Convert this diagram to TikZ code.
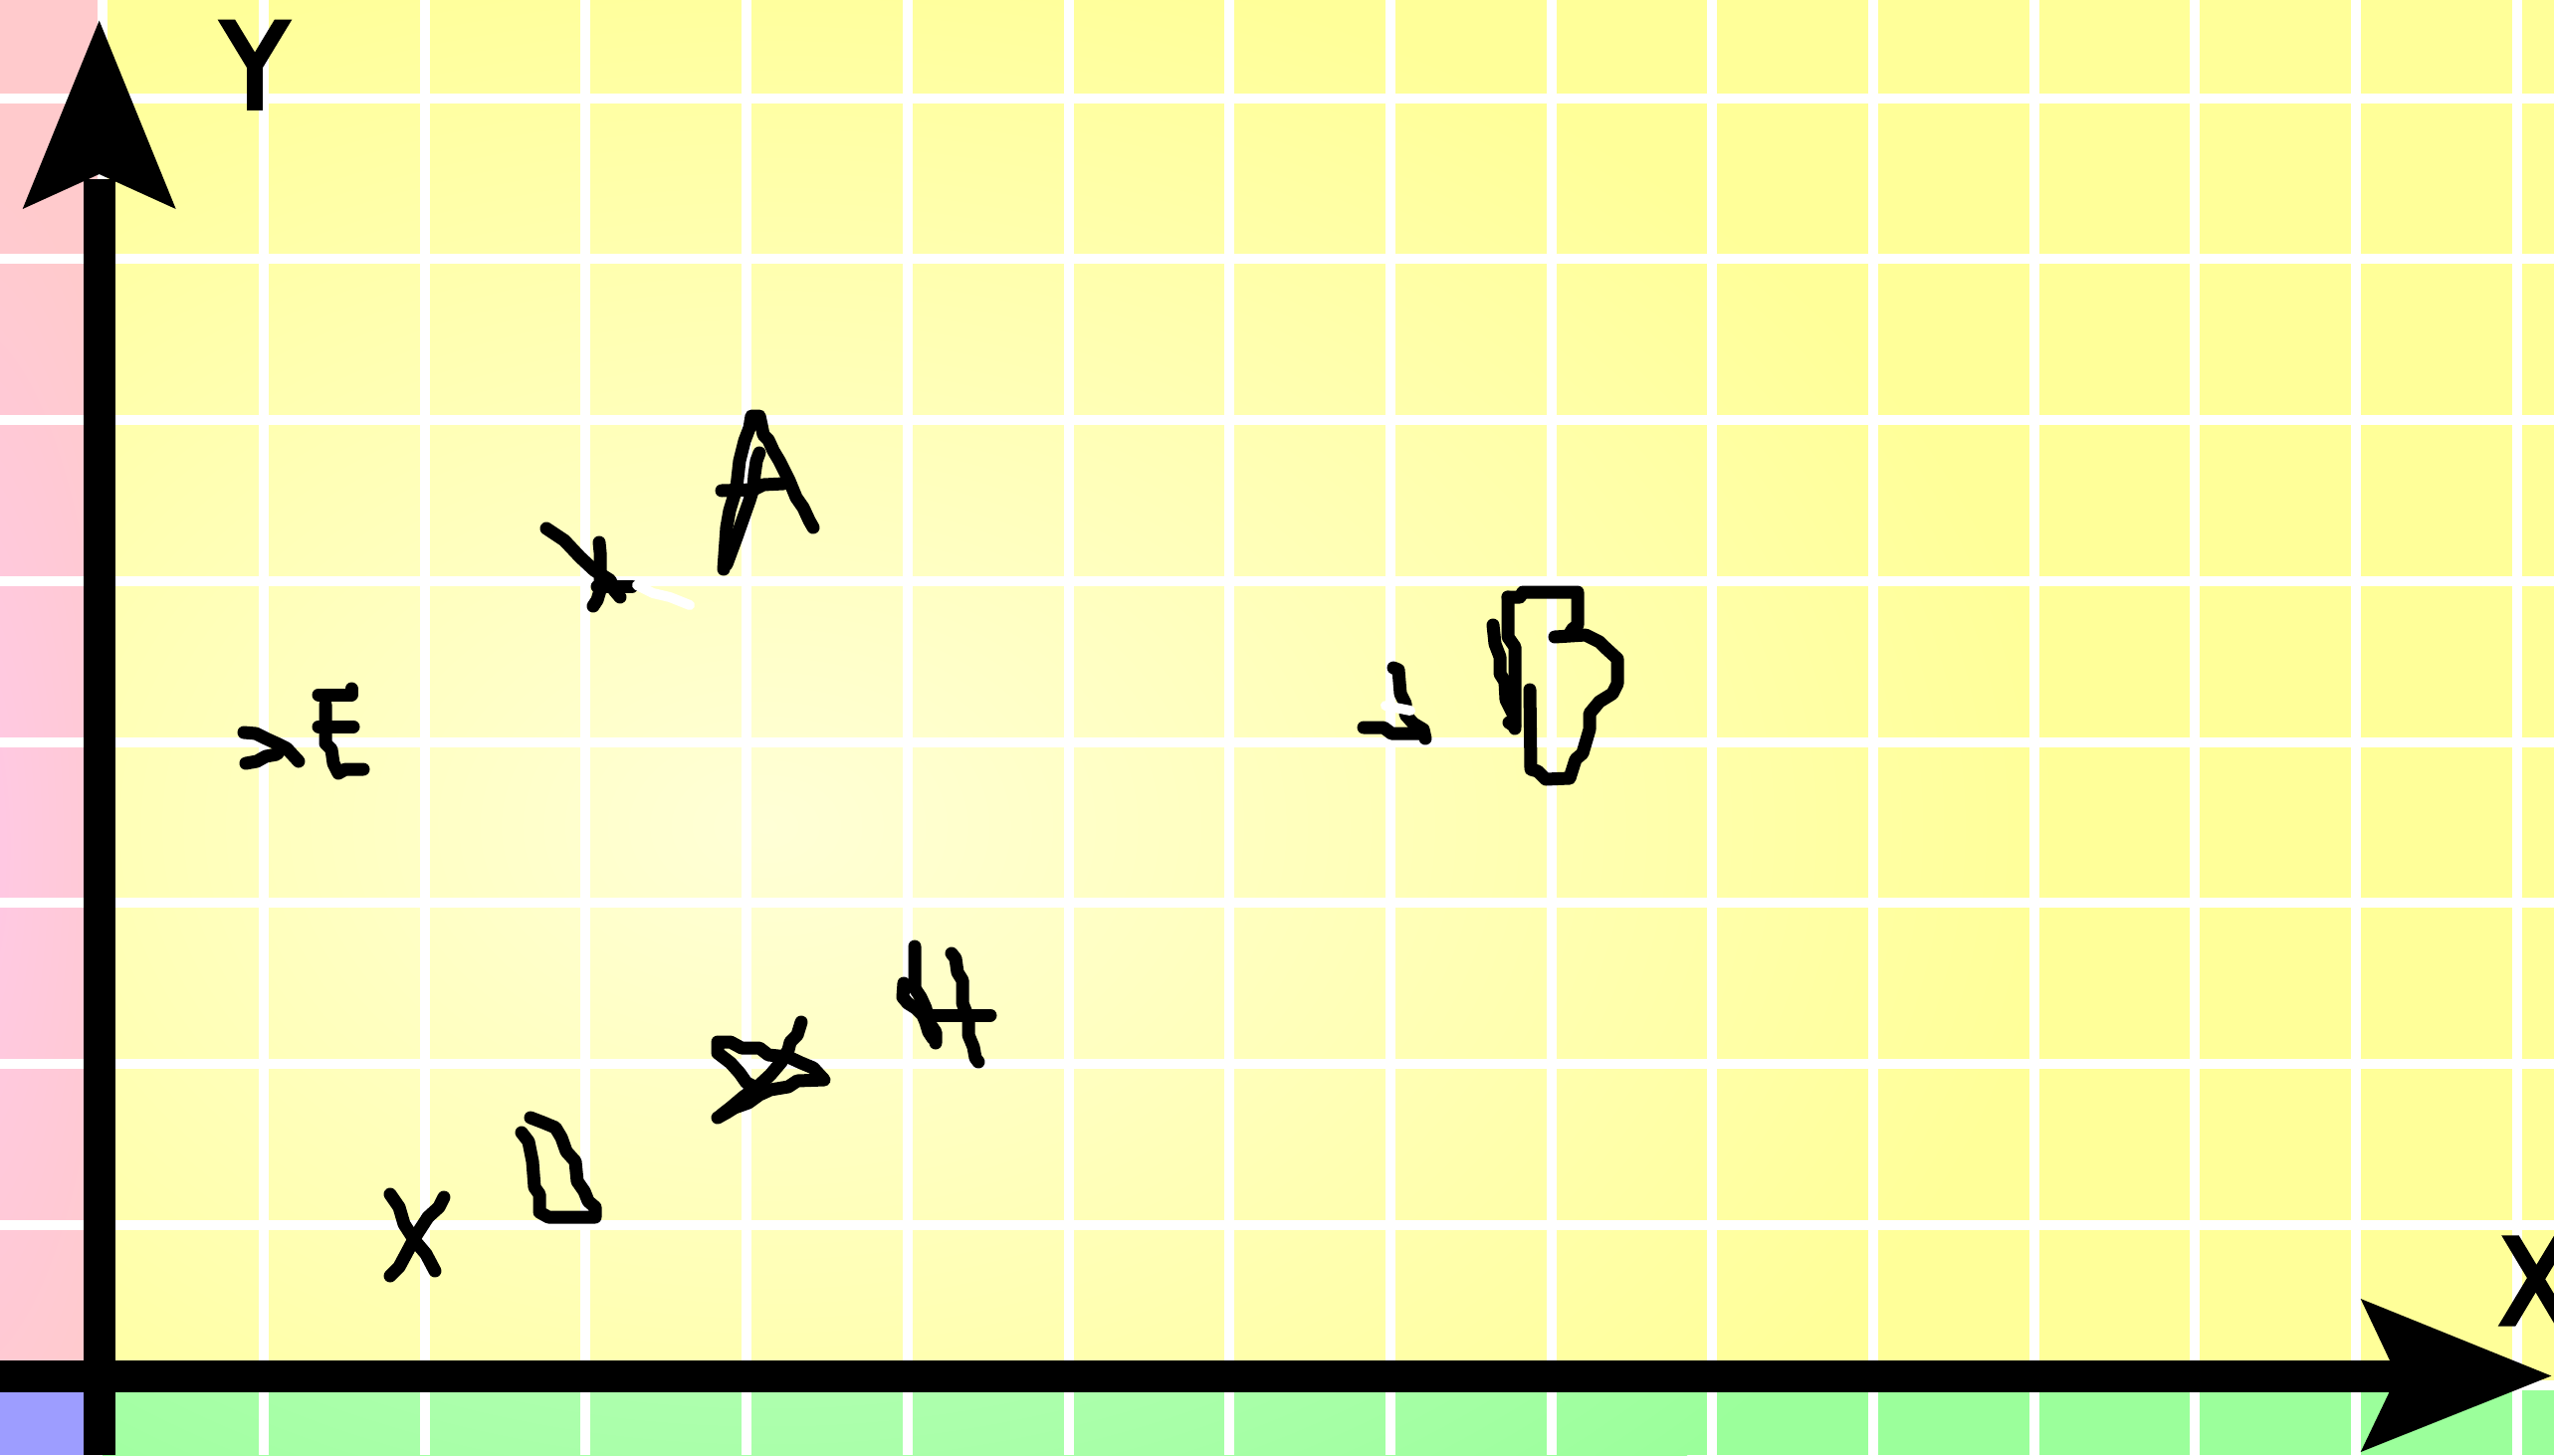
\documentclass[tikz,border=0pt]{standalone}
\usepackage{fontspec}
\setmainfont{DejaVu Sans}
\newfontfamily\axisfont[FakeBold=4.5,FakeStretch=0.9]{DejaVu Sans}
\definecolor{yelE}{RGB}{255,255,153}
\definecolor{yelC}{RGB}{255,255,214}
\definecolor{pinkA}{RGB}{255,200,232}
\definecolor{pinkB}{RGB}{255,202,204}
\definecolor{blueQ}{RGB}{157,157,255}
\definecolor{greenE}{RGB}{155,255,155}
\definecolor{greenC}{RGB}{205,255,205}
\tikzset{
  gridline/.style={draw=white, line width=10pt},
  axisline/.style={draw=black, line width=32pt},
  headfill/.style={fill=black},
  ink/.style={draw=black, line width=13pt, line cap=round, line join=round},
  eraser/.style={draw=white, line width=10pt, line cap=round, line join=round},
  axislabel/.style={inner sep=0pt, text=black, font=\axisfont\fontsize{118}{120}\selectfont},
}
\begin{document}
\begin{tikzpicture}[x=1pt,y=-1pt]
\useasboundingbox (0,0) rectangle (2566,1462);
% quadrants
\fill[yelE] (103,0) rectangle (2566,1392);
\begin{scope}
  \clip (103,0) rectangle (2566,1392);
  \shade[inner color=yelC, outer color=yelE] (770,830) ellipse (1300pt and 900pt);
\end{scope}
\fill[greenE] (103,1392) rectangle (2566,1462);
\begin{scope}
  \clip (103,1392) rectangle (2566,1462);
  \shade[inner color=greenC, outer color=greenE] (770,830) ellipse (1300pt and 900pt);
\end{scope}
\fill[pinkB] (0,0) rectangle (103,1392);
\begin{scope}
  \clip (0,0) rectangle (103,1392);
  \shade[inner color=pinkA, outer color=pinkB] (-40,850) ellipse (200pt and 700pt);
\end{scope}
\fill[blueQ] (0,1392) rectangle (103,1462);
% grid
\foreach \k in {0,...,15} \draw[gridline] ({103.3+\k*161.7},0) -- ({103.3+\k*161.7},1462);
\foreach \k in {0,...,8} \draw[gridline] (0,{98.7+\k*161.7}) -- (2566,{98.7+\k*161.7});
% axes
\coordinate (yfoot) at (99.7,1462);
\coordinate (yneck) at (99.7,180);
\coordinate (xfoot) at (0,1382.5);
\coordinate (xneck) at (2420,1382.5);
\draw[axisline] (yfoot) -- (yneck);
\fill[headfill] (99.7,20.7) -- (176.7,210) -- (99.7,175) -- (22.7,210) -- cycle;
\draw[axisline] (xfoot) -- (xneck);
\fill[headfill] (2563.3,1382.5) -- (2371.7,1459) -- (2408.3,1382.5) -- (2371.7,1305) -- cycle;
\node[axislabel, anchor=base] (ylabel) at (256,108.3) {Y};
\node[axislabel, anchor=base west] (xlabel) at (2511,1330) {X};
% scribble: K-like mark
\draw[ink] (549,531) -- (567,543) -- (583,560) -- (597,573) -- (613,583) -- (617,593) -- (623,600);
\draw[ink] (602,545) -- (603,555) -- (603,593) -- (600,603) -- (596,609);
\draw[ink] (600,589) -- (635,589);
\draw[eraser] (640,588) -- (656,596) -- (673,600) -- (693,608);
% scribble: A
\draw[ink] (727,572) -- (730,530) -- (733,513) -- (740,490) -- (743,463) -- (748,443) -- (753,430) -- (755,418) -- (763,418) -- (765,427) -- (767,437) -- (772,442) -- (777,453) -- (783,463) -- (790,477) -- (793,483) -- (800,500) -- (807,510) -- (813,523) -- (817,530);
\draw[ink] (730,567) -- (740,540) -- (747,520) -- (753,503) -- (757,490) -- (758,477) -- (760,463) -- (763,455);
\draw[ink] (725,493) -- (757,492) -- (767,487) -- (787,486);
% scribble: >E
\draw[ink] (245,736) -- (257,737) -- (267,742) -- (278,747) -- (288,752) -- (300,765);
\draw[ink] (247,767) -- (258,765) -- (267,760) -- (278,758) -- (283,752);
\draw[ink] (320,698) -- (353,698) -- (353,692);
\draw[ink] (320,730) -- (355,730);
\draw[ink] (327,708) -- (327,747) -- (333,753) -- (335,767) -- (340,777) -- (347,773) -- (365,773);
% scribble: 1 and B
\draw[ink] (1400,671) -- (1405,673) -- (1407,697) -- (1412,707) -- (1412,718) -- (1420,727) -- (1430,733) -- (1432,742);
\draw[ink] (1370,731) -- (1390,731) -- (1398,737) -- (1430,737);
\draw[eraser] (1392,709) -- (1417,714);
\draw[ink] (1500,628) -- (1502,647) -- (1507,660) -- (1507,677) -- (1512,685) -- (1513,703) -- (1520,717) -- (1522,732);
\draw[ink] (1515,600) -- (1515,640) -- (1522,650) -- (1522,730) -- (1516,726);
\draw[ink] (1515,600) -- (1527,600) -- (1530,595) -- (1585,595) -- (1585,628) -- (1580,632) -- (1577,637);
\draw[ink] (1562,640) -- (1593,638) -- (1607,645) -- (1612,650) -- (1625,662) -- (1625,687) -- (1620,697) -- (1607,705) -- (1597,717) -- (1597,733) -- (1590,757) -- (1583,763) -- (1577,782) -- (1553,783) -- (1545,775) -- (1538,773) -- (1537,693);
% scribble: X
\draw[ink] (392,1200) -- (401,1213) -- (406,1230) -- (417,1247) -- (428,1260) -- (437,1277);
\draw[ink] (446,1203) -- (441,1213) -- (430,1223) -- (417,1243) -- (408,1260) -- (401,1273) -- (392,1282);
% scribble: D
\draw[ink] (524,1138) -- (531,1147) -- (535,1167) -- (537,1193) -- (542,1200) -- (542,1218) -- (551,1223) -- (598,1223) -- (598,1213) -- (591,1207) -- (587,1197) -- (580,1187) -- (578,1167) -- (569,1157) -- (564,1143) -- (558,1133) -- (546,1128) -- (533,1123);
% scribble: star-like mark
\draw[ink] (758,1092) -- (750,1088) -- (743,1078) -- (734,1068) -- (721,1058) -- (721,1047) -- (734,1047) -- (745,1053) -- (763,1053) -- (772,1060) -- (792,1062) -- (805,1068) -- (817,1073) -- (828,1085) -- (801,1086) -- (792,1092) -- (774,1095) -- (763,1100) -- (752,1108) -- (738,1113) -- (730,1118) -- (721,1123);
\draw[ink] (805,1027) -- (801,1040) -- (794,1047) -- (792,1055) -- (785,1067) -- (774,1080) -- (761,1092) -- (747,1102) -- (734,1113) -- (725,1120);
% scribble: H-like mark
\draw[ink] (919,951) -- (919,993) -- (925,1002) -- (930,1013) -- (933,1027) -- (940,1037) -- (940,1048);
\draw[ink] (908,988) -- (907,1002) -- (912,1008) -- (920,1013) -- (927,1020) -- (930,1027) -- (933,1037) -- (937,1043);
\draw[ink] (956,958) -- (960,963) -- (962,977) -- (967,985) -- (967,1008) -- (973,1023) -- (973,1040) -- (978,1052) -- (980,1063) -- (983,1067);
\draw[ink] (930,1020) -- (995,1020);
\end{tikzpicture}
\end{document}
